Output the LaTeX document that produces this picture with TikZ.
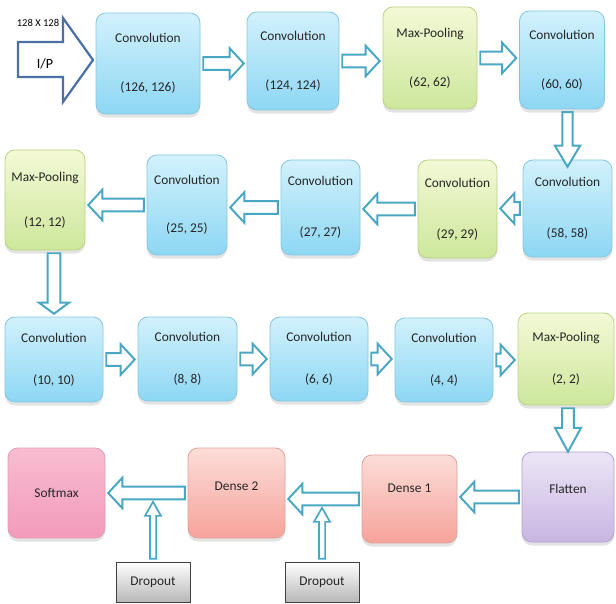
\documentclass[tikz,border=0pt]{standalone}
\usepackage{fontspec}
\setmainfont{Carlito}
\usepackage{xcolor}
\definecolor{convTop}{HTML}{D2F1FC}
\definecolor{convBot}{HTML}{8DD7F3}
\definecolor{convLine}{HTML}{86C8E2}
\definecolor{poolTop}{HTML}{F3F9D6}
\definecolor{poolBot}{HTML}{CDE79B}
\definecolor{poolLine}{HTML}{B9D484}
\definecolor{denseTop}{HTML}{FCDDD8}
\definecolor{denseBot}{HTML}{F6A39B}
\definecolor{denseLine}{HTML}{E3A19B}
\definecolor{softTop}{HTML}{F8BDD1}
\definecolor{softBot}{HTML}{F29ABA}
\definecolor{softLine}{HTML}{E59CB6}
\definecolor{flatTop}{HTML}{ECE5F6}
\definecolor{flatBot}{HTML}{C8B6E2}
\definecolor{flatLine}{HTML}{B1A3CF}
\definecolor{arrowTeal}{HTML}{4AA7C3}
\definecolor{inBlue}{HTML}{4C70A6}
\usepackage{tikz}
\usetikzlibrary{calc,shadows}

\tikzset{
  box/.style={rounded corners=7pt, line width=0.6pt, align=center, inner sep=0pt,
    font=\fontsize{9.5}{11}\selectfont, text=black!85,
    drop shadow={opacity=0.22, shadow xshift=0pt, shadow yshift=-2.5pt}},
  sz/.style 2 args={minimum width=#1*0.025cm, minimum height=#2*0.025cm},
  conv/.style={box, draw=convLine, top color=convTop, bottom color=convBot},
  pool/.style={box, draw=poolLine, top color=poolTop, bottom color=poolBot},
  dense/.style={box, draw=denseLine, top color=denseTop, bottom color=denseBot},
  soft/.style={box, draw=softLine, top color=softTop, bottom color=softBot},
  flat/.style={box, draw=flatLine, top color=flatTop, bottom color=flatBot},
  dropbox/.style={draw=black!75, line width=0.7pt, top color=white, bottom color=black!28,
    inner sep=0pt, font=\fontsize{9.5}{11}\selectfont, text=black!85},
  flowarrow/.style={draw=arrowTeal, fill=white, line width=1.4pt, line join=miter},
}

% hollow block arrow from #2 to #3, sizes from \shaftw, \headw, \headl
\newcommand{\shaftw}{4.6pt}
\newcommand{\headw}{10.8pt}
\newcommand{\headl}{10pt}
\newcommand{\hollowarrow}[3][]{%
  \coordinate (ha-s) at ($#2!2pt!#3$);
  \coordinate (ha-t) at ($#3!2pt!#2$);
  \coordinate (ha-h) at ($(ha-t)!\headl!(ha-s)$);
  \draw[flowarrow,#1] ($(ha-s)!\shaftw!90:(ha-t)$) -- ($(ha-h)!\shaftw!-90:(ha-s)$)
    -- ($(ha-h)!\headw!-90:(ha-s)$) -- (ha-t) -- ($(ha-h)!\headw!90:(ha-s)$)
    -- ($(ha-h)!\shaftw!90:(ha-s)$) -- ($(ha-s)!\shaftw!-90:(ha-t)$) -- cycle;
}

\begin{document}
\begin{tikzpicture}[x=0.025cm, y=-0.025cm]
  \useasboundingbox (0,0) rectangle (616,603);

  % ---------------- input ----------------
  \draw[inBlue, fill=white, line width=1.6pt, line join=miter]
    (18,42) -- (63,42) -- (63,18) -- (93,60) -- (63,102) -- (63,77) -- (18,77) -- cycle;
  \node (ip)   at (45,64) {\fontsize{10}{12}\selectfont I/P};
  \node (size) at (38,23) {\fontsize{7.5}{9}\selectfont 128 X 128};

  % ---------------- row 1 ----------------
  \node[conv, sz={104}{101}] (conv1) at (148,63.5) {Convolution\\[24pt](126, 126)};
  \node[conv, sz={92}{98}]   (conv2) at (293,61)   {Convolution\\[24pt](124, 124)};
  \node[pool, sz={94}{102}]  (pool1) at (430,58)   {Max-Pooling\\[24pt](62, 62)};
  \node[conv, sz={85}{98}]   (conv4) at (562,60)   {Convolution\\[24pt](60, 60)};

  % ---------------- row 2 ----------------
  \node[conv, sz={89}{97}]   (conv5) at (567.5,208.5) {Convolution\\[25pt](58, 58)};
  \node[pool, sz={79}{98}]   (conv6) at (457.5,209)   {Convolution\\[25pt](29, 29)};
  \node[conv, sz={79}{95}]   (conv7) at (320.5,207.5) {Convolution\\[25pt](27, 27)};
  \node[conv, sz={80}{100}]  (conv8) at (187,205)     {Convolution\\[23pt](25, 25)};
  \node[pool, sz={80}{100}]  (pool2) at (45,200)      {Max-Pooling\\[21pt](12, 12)};

  % ---------------- row 3 ----------------
  \node[conv, sz={98}{85}]   (conv9)  at (54,359.5) {Convolution\\[19pt](10, 10)};
  \node[conv, sz={99}{84}]   (conv10) at (187.5,359) {Convolution\\[19pt](8, 8)};
  \node[conv, sz={98}{84}]   (conv11) at (319,359)   {Convolution\\[19pt](6, 6)};
  \node[conv, sz={98}{84}]   (conv12) at (444,360)   {Convolution\\[19pt](4, 4)};
  \node[pool, sz={96}{92}]   (pool3)  at (566,359)   {Max-Pooling\\[19pt](2, 2)};

  % ---------------- row 4 ----------------
  \node[flat,  sz={92}{90}, text depth=12pt] (flatten) at (568,497)   {Flatten};
  \node[dense, sz={95}{88}, text depth=16pt] (dense1)  at (409.5,499) {Dense 1};
  \node[dense, sz={97}{90}, text depth=10pt] (dense2)  at (236.5,493) {Dense 2};
  \node[soft,  sz={97}{90}] (softmax) at (56.5,493) {Softmax};
  \node[dropbox, sz={74}{40}] (drop1) at (153,582) {Dropout};
  \node[dropbox, sz={74}{40}] (drop2) at (322,582) {Dropout};

  % ---------------- the flow ----------------
  \hollowarrow{(conv1.east)}{(conv1.east -| conv2.west)}
  \hollowarrow{(conv2.east)}{(conv2.east -| pool1.west)}
  \hollowarrow{(pool1.east)}{(pool1.east -| conv4.west)}
  \begin{scope}
    \renewcommand{\shaftw}{3.6pt}\renewcommand{\headw}{9pt}\renewcommand{\headl}{15pt}
    \hollowarrow{(conv4.south -| conv5.north)}{($(conv5.north)+(0,10)$)}
  \end{scope}
  \hollowarrow{(conv5.west)}{(conv5.west -| conv6.east)}
  \hollowarrow{(conv6.west)}{(conv6.west -| conv7.east)}
  \hollowarrow{(conv7.west)}{(conv7.west -| conv8.east)}
  \hollowarrow{(conv8.west)}{(conv8.west -| pool2.east)}
  \begin{scope}
    \renewcommand{\headl}{8pt}
    \hollowarrow{(pool2.south -| conv9.north)}{(conv9.north)}
  \end{scope}
  \hollowarrow{(conv9.east)}{(conv9.east -| conv10.west)}
  \hollowarrow{(conv10.east)}{(conv10.east -| conv11.west)}
  \hollowarrow{(conv11.east)}{(conv11.east -| conv12.west)}
  \hollowarrow{(conv12.east)}{(conv12.east -| pool3.west)}
  \begin{scope}
    \renewcommand{\shaftw}{4.2pt}\renewcommand{\headw}{9.2pt}\renewcommand{\headl}{17pt}
    \hollowarrow{(pool3.south -| flatten.north)}{($(flatten.north)+(0,3)$)}
  \end{scope}
  \hollowarrow{(flatten.west)}{(flatten.west -| dense1.east)}
  \hollowarrow{(dense1.west)}{(dense1.west -| dense2.east)}
  \hollowarrow{(dense2.west)}{(dense2.west -| softmax.east)}

  % ---------------- dropout ----------------
  \begin{scope}
    \renewcommand{\shaftw}{2.2pt}\renewcommand{\headw}{5.7pt}\renewcommand{\headl}{10pt}
    \hollowarrow[line width=1.2pt]{(drop1.north)}{($(drop1.north |- dense2.west)+(0,6)$)}
    \hollowarrow[line width=1.2pt]{(drop2.north)}{($(drop2.north |- dense1.west)+(0,6)$)}
  \end{scope}
\end{tikzpicture}
\end{document}
